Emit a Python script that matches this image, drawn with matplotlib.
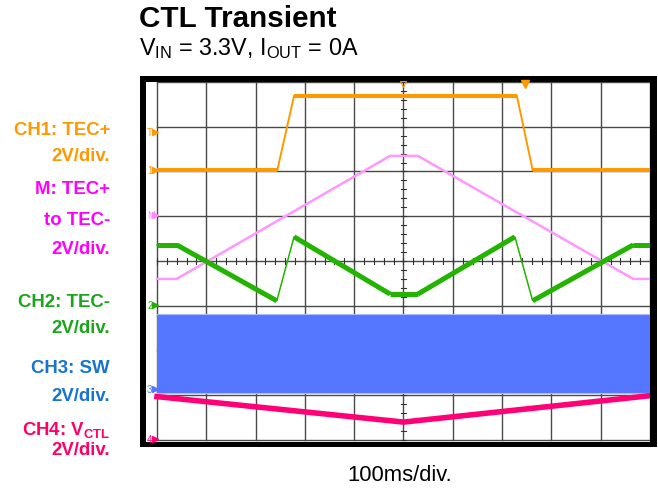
import numpy as np
import matplotlib
matplotlib.use("Agg")
import matplotlib.pyplot as plt
from matplotlib.patches import Rectangle

plt.rcParams['font.family'] = ['Liberation Sans', 'DejaVu Sans']
plt.rcParams['mathtext.default'] = 'regular'

# scope screen: time in divisions (100ms/div), level in divisions from bottom
ch1_t = [0, 2.44, 2.78, 7.30, 7.62, 10]
ch1_v = [6.03, 6.03, 7.69, 7.69, 6.03, 6.03]

m_t = [0, 0.40, 4.73, 5.29, 9.66, 10]
m_v = [3.60, 3.60, 6.35, 6.35, 3.60, 3.60]

ch2_t = [0, 0.40, 2.43, 2.78, 4.73, 5.29, 7.26, 7.62, 9.66, 10]
ch2_v = [4.36, 4.36, 3.11, 4.54, 3.26, 3.26, 4.54, 3.11, 4.36, 4.36]

ch3_t = [0, 10]
ch3_hi = [2.82, 2.82]
ch3_lo = [1.05, 1.05]

ch4_t = [0, 5, 10]
ch4_v = [0.97, 0.40, 0.99]

# channel reference markers on the left edge
ref_names = ['T', '1', 'M', '2', '3', '4']
ref_levels = [6.88, 6.03, 5.03, 3.02, 1.14, 0.02]
ref_colors = ['#ff9900', '#ff9900', '#ff88ff', '#22b000', '#5577ff', '#ff0077']

ORANGE = '#ff9900'
PINK = '#ff99ff'
GREEN = '#22b400'
BLUE = '#5577ff'
RED = '#ff0077'

W, H = 658, 489
fig = plt.figure(figsize=(W / 100, H / 100), dpi=100)


def fx(px):
    return px / W


def fy(py):
    return 1 - py / H


# black scope bezel
fig.add_artist(Rectangle((fx(140), fy(448)), fx(657) - fx(140), fy(77) - fy(448),
                         transform=fig.transFigure, facecolor='black',
                         edgecolor='none', zorder=0))

ax = fig.add_axes([fx(146), fy(443), fx(650) - fx(146), fy(83) - fy(443)])
ax.set_facecolor('white')
ax.set_xlim(-0.223, 10)
ax.set_ylim(-0.045, 8)
for s in ax.spines.values():
    s.set_visible(False)
ax.set_xticks([])
ax.set_yticks([])

# graticule
for i in range(11):
    ax.plot([i, i], [0, 8], color='#4a4a4a', lw=1.0, zorder=1)
for j in range(9):
    ax.plot([0, 10], [j, j], color='#4a4a4a', lw=1.0, zorder=1)
minor_x = np.arange(0, 10.01, 0.2)
minor_y = np.arange(0, 8.01, 0.2)
ax.plot(np.repeat(minor_x, 3), np.tile([4 - 0.07, 4 + 0.07, np.nan], len(minor_x)),
        color='#333333', lw=0.8, zorder=1)
ax.plot(np.tile([5 - 0.06, 5 + 0.06, np.nan], len(minor_y)), np.repeat(minor_y, 3),
        color='#333333', lw=0.8, zorder=1)

# CH3 switching node band
ax.fill_between(ch3_t, ch3_lo, ch3_hi, color=BLUE, lw=0, zorder=2)
ax.plot(ch3_t, ch3_hi, color='#aabbff', lw=0.8, zorder=2)
ax.plot(ch3_t, ch3_lo, color='#aabbff', lw=0.8, zorder=2)


def trace(t, v, color, thick, thin, z):
    t = np.asarray(t, float)
    v = np.asarray(v, float)
    ax.plot(t, v, color=color, lw=thin, zorder=z, solid_joinstyle='miter')
    slope = np.abs(np.diff(v) / np.diff(t))
    for k in range(len(slope)):
        if slope[k] < 2:
            ax.plot(t[k:k + 2], v[k:k + 2], color=color, lw=thick, zorder=z,
                    solid_capstyle='butt')


trace(m_t, m_v, PINK, 1.6, 1.6, 3)
trace(ch1_t, ch1_v, ORANGE, 2.9, 1.4, 4)
trace(ch2_t, ch2_v, GREEN, 3.6, 1.1, 4)
ax.plot(ch4_t, ch4_v, color=RED, lw=4, zorder=4)

# reference markers
for name, lvl, c in zip(ref_names, ref_levels, ref_colors):
    ax.text(-0.2, lvl, name, color=c, fontsize=7, ha='left', va='center', zorder=5)
    ax.plot(-0.05, lvl, marker='>', color=c, ms=4, zorder=5, clip_on=False)
ax.plot(7.46, 7.95, marker='v', color=ORANGE, ms=6, clip_on=False, zorder=5)
ax.plot(5.0, 7.95, marker='v', color=ORANGE, ms=5, mfc='none', mew=0.8,
        clip_on=False, zorder=5)

# titles
fig.text(fx(139), fy(27), 'CTL Transient', fontsize=21.3, fontweight='bold',
         ha='left', va='baseline')
fig.text(fx(139), fy(55), 'V$_{IN}$ = 3.3V, I$_{OUT}$ = 0A', fontsize=16.8,
         ha='left', va='baseline')
fig.text(fx(400), fy(481), '100ms/div.', fontsize=15.8, ha='center', va='baseline')

labels = [
    ('CH1: TEC+', 135, ORANGE),
    ('2V/div.', 161, ORANGE),
    ('M: TEC+', 194, '#ff00ff'),
    ('to TEC-', 225, '#ff00ff'),
    ('2V/div.', 254, '#ff00ff'),
    ('CH2: TEC-', 307, '#1aa51a'),
    ('2V/div.', 333, '#1aa51a'),
    ('CH3: SW', 373, '#1874cd'),
    ('2V/div.', 401, '#1874cd'),
    ('CH4: V$_{CTL}$', 435, '#ff0066'),
    ('2V/div.', 455, '#ff0066'),
]
for txt, y, c in labels:
    fig.text(fx(110), fy(y), txt, fontsize=13.4, fontweight='bold', color=c,
             ha='right', va='baseline')

fig.savefig('out.png', dpi=100)
